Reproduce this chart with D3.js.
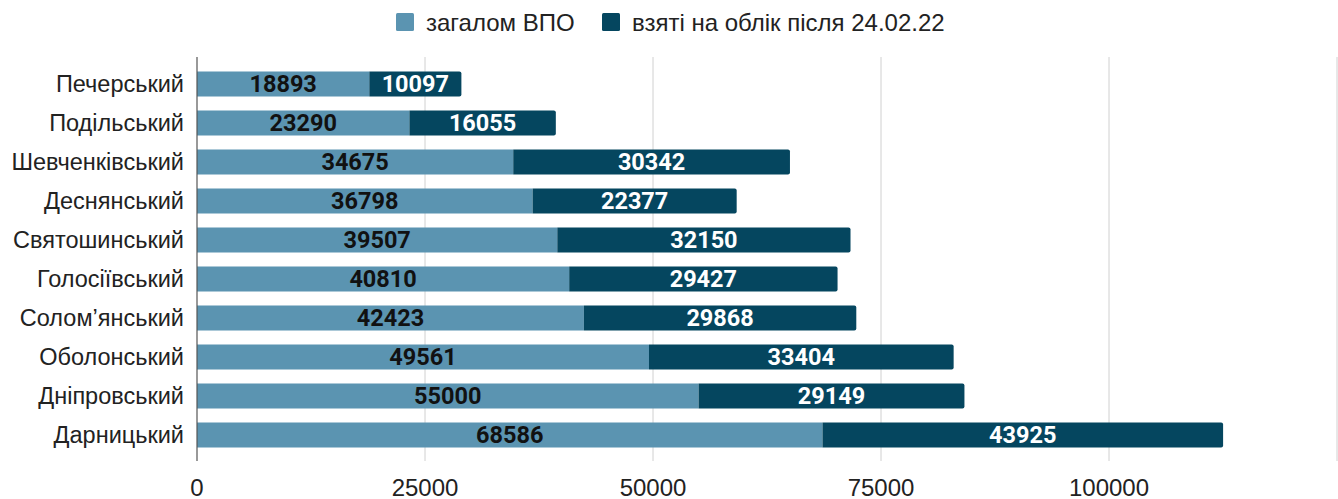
<!DOCTYPE html>
<html>
<head>
<meta charset="utf-8">
<script src="https://cdn.jsdelivr.net/npm/d3@7"></script>
<style>
  body { margin: 0; background: #fff; }
  svg { font-family: "Liberation Sans", Arial, sans-serif; }
  .val { font-family: Roboto, "Noto Sans", sans-serif; }
</style>
</head>
<body>
<div id="chart"></div>
<script>
// data
var districts = ["Печерський", "Подільський", "Шевченківський", "Деснянський", "Святошинський",
                 "Голосіївський", "Солом’янський", "Оболонський", "Дніпровський", "Дарницький"];
var totalIdp = [18893, 23290, 34675, 36798, 39507, 40810, 42423, 49561, 55000, 68586];
var afterFeb = [10097, 16055, 30342, 22377, 32150, 29427, 29868, 33404, 29149, 43925];
var seriesNames = ["загалом ВПО", "взяті на облік після 24.02.22"];
var xTicks = [0, 25000, 50000, 75000, 100000, 125000];

var colors = ["#5b94b1", "#05465f"];

var W = 1338, H = 499;
var svg = d3.select("#chart")
  .append("svg")
    .attr("width", W)
    .attr("height", H);

var x = d3.scaleLinear()
  .domain([0, 125000])
  .range([197, 1337]);

var y = d3.scaleBand()
  .domain(districts)
  .range([64.5, 454.5])
  .paddingInner(0.36)
  .paddingOuter(0.18);

var plotTop = 57, plotBottom = 461;

// grid lines
svg.append("g")
  .selectAll("line")
  .data(xTicks.slice(1))
  .enter()
  .append("line")
    .attr("x1", d => x(d))
    .attr("x2", d => x(d))
    .attr("y1", plotTop)
    .attr("y2", plotBottom)
    .attr("stroke", "#d0d0d0")
    .attr("stroke-width", 1);

// stacked rows
var rows = districts.map((d, i) => ({ name: d, a: totalIdp[i], b: afterFeb[i] }));
var stack = d3.stack().keys(["a", "b"]);
var layers = stack(rows);

var bh = 25;
layers.forEach((layer, li) => {
  var g = svg.append("g");
  g.selectAll("path")
    .data(layer)
    .enter()
    .append("path")
      .attr("fill", colors[li])
      .attr("d", d => {
        var x0 = x(d[0]), x1 = x(d[1]);
        var yc = y(d.data.name) + y.bandwidth() / 2;
        var y0 = yc - bh / 2, y1 = yc + bh / 2;
        if (li === 1) {
          var r = 2;
          return "M" + x0 + "," + y0 + "H" + (x1 - r) + "Q" + x1 + "," + y0 + " " + x1 + "," + (y0 + r) +
                 "V" + (y1 - r) + "Q" + x1 + "," + y1 + " " + (x1 - r) + "," + y1 + "H" + x0 + "Z";
        }
        return "M" + x0 + "," + y0 + "H" + x1 + "V" + y1 + "H" + x0 + "Z";
      });

  g.selectAll("text")
    .data(layer)
    .enter()
    .append("text")
      .attr("class", "val")
      .attr("x", d => (x(d[0]) + x(d[1])) / 2)
      .attr("y", d => y(d.data.name) + y.bandwidth() / 2)
      .attr("dy", "0.36em")
      .attr("text-anchor", "middle")
      .attr("font-size", 23.5)
      .attr("font-weight", "bold")
      .attr("fill", li === 0 ? "#111" : "#fff")
      .text(d => d[1] - d[0]);
});

// zero line
svg.append("line")
  .attr("x1", x(0)).attr("x2", x(0))
  .attr("y1", plotTop).attr("y2", plotBottom)
  .attr("stroke", "#555")
  .attr("stroke-width", 1.2);

// category labels
svg.append("g")
  .selectAll("text")
  .data(districts)
  .enter()
  .append("text")
    .attr("x", 184)
    .attr("y", d => y(d) + y.bandwidth() / 2)
    .attr("dy", "0.36em")
    .attr("text-anchor", "end")
    .attr("font-size", 23.5)
    .attr("fill", "#222")
    .text(d => d);

// x tick labels
svg.append("g")
  .selectAll("text")
  .data(xTicks.slice(0, 5))
  .enter()
  .append("text")
    .attr("x", d => x(d))
    .attr("y", 496)
    .attr("text-anchor", "middle")
    .attr("font-size", 24)
    .attr("fill", "#222")
    .text(d => d);

// legend
var legendX = [396, 602];
var legend = svg.append("g");
seriesNames.forEach((name, i) => {
  legend.append("rect")
    .attr("x", legendX[i])
    .attr("y", 13)
    .attr("width", 18)
    .attr("height", 18)
    .attr("rx", 1.5)
    .attr("fill", colors[i]);
  legend.append("text")
    .attr("x", legendX[i] + 30)
    .attr("y", 22)
    .attr("dy", "0.36em")
    .attr("font-size", 24)
    .attr("fill", "#222")
    .text(name);
});
</script>
</body>
</html>
